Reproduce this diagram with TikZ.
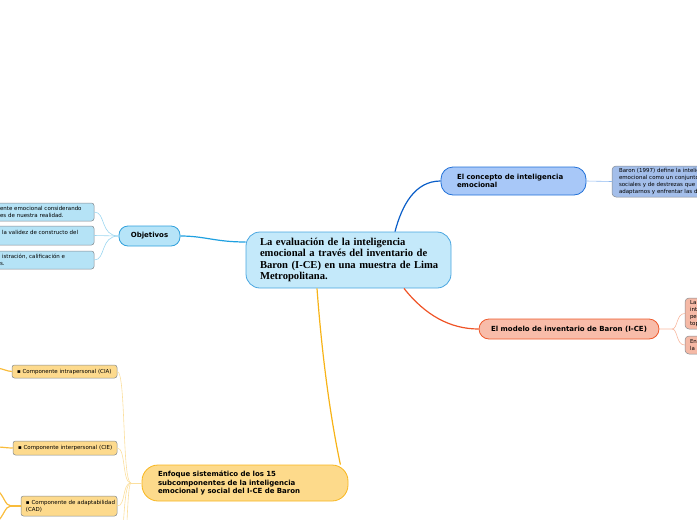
\documentclass[tikz,border=0pt]{standalone}
\usepackage{fontspec}
\setmainfont{Liberation Serif}
\setsansfont{DejaVu Sans}
\definecolor{mainF}{HTML}{C4E9FA}
\definecolor{mainD}{HTML}{4AA6E0}
\definecolor{objF}{HTML}{B6E4F8}
\definecolor{objD}{HTML}{2FA0DC}
\definecolor{objL}{HTML}{1EA0E0}
\definecolor{objSub}{HTML}{9BD6F0}
\definecolor{objLeafF}{HTML}{B5E3F6}
\definecolor{leafD}{HTML}{858B90}
\definecolor{conF}{HTML}{A8C8F8}
\definecolor{conD}{HTML}{2070D8}
\definecolor{conL}{HTML}{0A5EC8}
\definecolor{conSub}{HTML}{8DB8F0}
\definecolor{conLeafF}{HTML}{A3BEEA}
\definecolor{modF}{HTML}{F8BCA9}
\definecolor{modD}{HTML}{EE5A2C}
\definecolor{modL}{HTML}{EF5427}
\definecolor{modSub}{HTML}{F8B8A0}
\definecolor{modLeafF}{HTML}{F5B9A6}
\definecolor{enfF}{HTML}{FDDA8B}
\definecolor{enfD}{HTML}{F8B61E}
\definecolor{enfL}{HTML}{F7B317}
\definecolor{enfSub}{HTML}{FBDF9E}
\definecolor{enfLeafF}{HTML}{FDDA8D}
\definecolor{enfStub}{HTML}{F9BC3B}
\newcommand\mainfnt{\rmfamily\bfseries\fontsize{10.6}{11.4}\selectfont}
\newcommand\topicfnt{\sffamily\bfseries\fontsize{7}{8.6}\selectfont}
\newcommand\leaffnt{\sffamily\fontsize{5.5}{7}\selectfont}
\begin{document}
\begin{tikzpicture}[x=1pt,y=-1pt,
  mainbox/.style={draw=mainD, fill=mainF, line width=0.8pt, rounded corners=14pt, inner xsep=14pt, inner ysep=0pt, minimum height=56pt, text width=177pt, align=left, font=\mainfnt},
  topic/.style={line width=0.8pt, inner ysep=0pt, align=left, font=\topicfnt},
  leaf/.style={draw=leafD, line width=0.5pt, rounded corners=2.5pt, inner ysep=0pt, align=left, font=\leaffnt},
  link/.style={line width=1.2pt},
  sublink/.style={line width=0.6pt},
  stub/.style={line width=1.2pt, draw=enfStub}
]
\useasboundingbox (0,0) rectangle (697,520);
\clip (0,0) rectangle (697,520);

% central
\node[mainbox] (central) at (348.5,260) {\mbox{La evaluación de la inteligencia}\\ \mbox{emocional a través del inventario de}\\ \mbox{Baron (I-CE) en una muestra de Lima}\\ \mbox{Metropolitana.}};

% objetivos
\node[topic, draw=objD, fill=objF, rounded corners=9pt, minimum width=61pt, minimum height=20pt, align=center, inner xsep=0pt] (objetivos) at (149.5,236) {Objetivos};
\node[leaf, fill=objLeafF, minimum height=18pt, text width=84pt, inner xsep=10pt] (obj1) at (42,212) {\mbox{ente emocional considerando}\\ \mbox{es de nuestra realidad.}};
\node[leaf, fill=objLeafF, minimum height=19pt, text width=84pt, inner xsep=10pt] (obj2) at (42,235.5) {\mbox{\hspace{2pt}la validez de constructo del}\\ \mbox{}};
\node[leaf, fill=objLeafF, minimum height=18pt, text width=84pt, inner xsep=10pt] (obj3) at (42,260) {\mbox{\hspace{2pt}istración, calificación e}\\ \mbox{s.}};

% concepto
\node[topic, draw=conD, fill=conF, rounded corners=12pt, minimum height=28pt, text width=113pt, inner xsep=16pt] (concept) at (513.5,181) {El concepto de inteligencia\\ emocional};
\node[leaf, fill=conLeafF, draw=leafD, rounded corners=4pt, minimum height=31pt, text width=86pt, inner xsep=7pt] (conchild) at (662,181.5) {\mbox{Baron (1997) define la intelig}\\ \mbox{emocional como un conjunto}\\ \mbox{sociales y de destrezas que i}\\ \mbox{adaptarnos y enfrentar las de}};

% modelo
\node[topic, draw=modD, fill=modF, rounded corners=10pt, minimum width=180pt, minimum height=20pt, inner xsep=0pt, align=center] (model) at (569,329) {El modelo de inventario de Baron (I-CE)};
\node[leaf, fill=modLeafF, rounded corners=4pt, minimum height=31pt, text width=30pt, inner xsep=5pt] (mc1) at (705,313.5) {La\\ int\\ pe\\ top};
\node[leaf, fill=modLeafF, rounded corners=4pt, minimum height=18pt, text width=30pt, inner xsep=5pt] (mc2) at (705,345) {En\\ la};

% enfoque
\node[topic, draw=enfD, fill=enfF, rounded corners=16pt, minimum height=36pt, text width=174pt, inner xsep=16pt] (enfoque) at (245,483) {Enfoque sistemático de los 15\\ subcomponentes de la inteligencia\\ emocional y social del I-CE de Baron};
\node[leaf, fill=enfLeafF, minimum height=13pt, text width=95pt, inner xsep=5pt] (cia) at (64.5,371.5) {\mbox{▪ Componente intrapersonal (CIA)}};
\node[leaf, fill=enfLeafF, minimum height=14pt, text width=94pt, inner xsep=5pt] (cie) at (65,448) {\mbox{▪ Componente interpersonal (CIE)}};
\node[leaf, fill=enfLeafF, minimum height=20pt, text width=86pt, inner xsep=5pt] (cad) at (69,506) {\mbox{▪ Componente de adaptabilidad}\\ (CAD)};

% hidden ends
\coordinate (off1) at (117,560);
\coordinate (off2) at (117,620);
\coordinate (br) at (131,483);
\coordinate (lc1) at (-3,368);
\coordinate (lc2) at (-3,447);
\coordinate (cadb) at (11,506);
\coordinate (lc3) at (-3,490);
\coordinate (lc4) at (-3,522);
\coordinate (mb) at (672,329);

% main links
\draw[link, objL] ([yshift=18pt]central.west) .. controls (215,242) and (205,236) .. (objetivos.east);
\draw[link, conL] ([xshift=46.5pt]central.north) .. controls (402,205) and (415,181) .. (concept.west);
\draw[link, modL] ([xshift=55.5pt]central.south) .. controls (425,315) and (450,329) .. (model.west);
\draw[link, enfL] ([xshift=-31.5pt]central.south) .. controls (323,370) and (333,430) .. ([xshift=-8pt]enfoque.north east);

% objetivos sublinks
\draw[sublink, objSub] (objetivos.west) .. controls (100,236) and (106,212) .. (obj1.east);
\draw[sublink, objSub] (objetivos.west) -- (obj2.east);
\draw[sublink, objSub] (objetivos.west) .. controls (100,236) and (106,260) .. (obj3.east);

% concept sublink
\draw[sublink, conSub] (concept.east) -- (conchild.west);

% model sublinks
\draw[sublink, modSub] (model.east) -- (mb) .. controls (678,329) and (676,313.5) .. (mc1.west);
\draw[sublink, modSub] (mb) .. controls (678,329) and (676,345) .. (mc2.west);

% enfoque sublinks
\draw[sublink, enfSub] (enfoque.west) -- (br);
\draw[sublink, enfSub] (br) .. controls (122,483) and (126,371) .. (cia.east);
\draw[sublink, enfSub] (br) .. controls (122,483) and (126,448) .. (cie.east);
\draw[sublink, enfSub] (br) .. controls (122,483) and (126,506) .. (cad.east);
\draw[sublink, enfSub] (br) .. controls (122,483) and (126,540) .. (off1);
\draw[sublink, enfSub] (br) .. controls (126,483) and (128,580) .. (off2);

% left stubs
\draw[stub] (cia.west) .. controls (6,371) and (4,369) .. (lc1);
\draw[stub] (cie.west) .. controls (6,448) and (3,447) .. (lc2);
\draw[stub] (cad.west) -- (cadb);
\draw[stub] (cadb) .. controls (5,506) and (4,495) .. (lc3);
\draw[stub] (cadb) .. controls (5,506) and (4,516) .. (lc4);
\end{tikzpicture}
\end{document}
